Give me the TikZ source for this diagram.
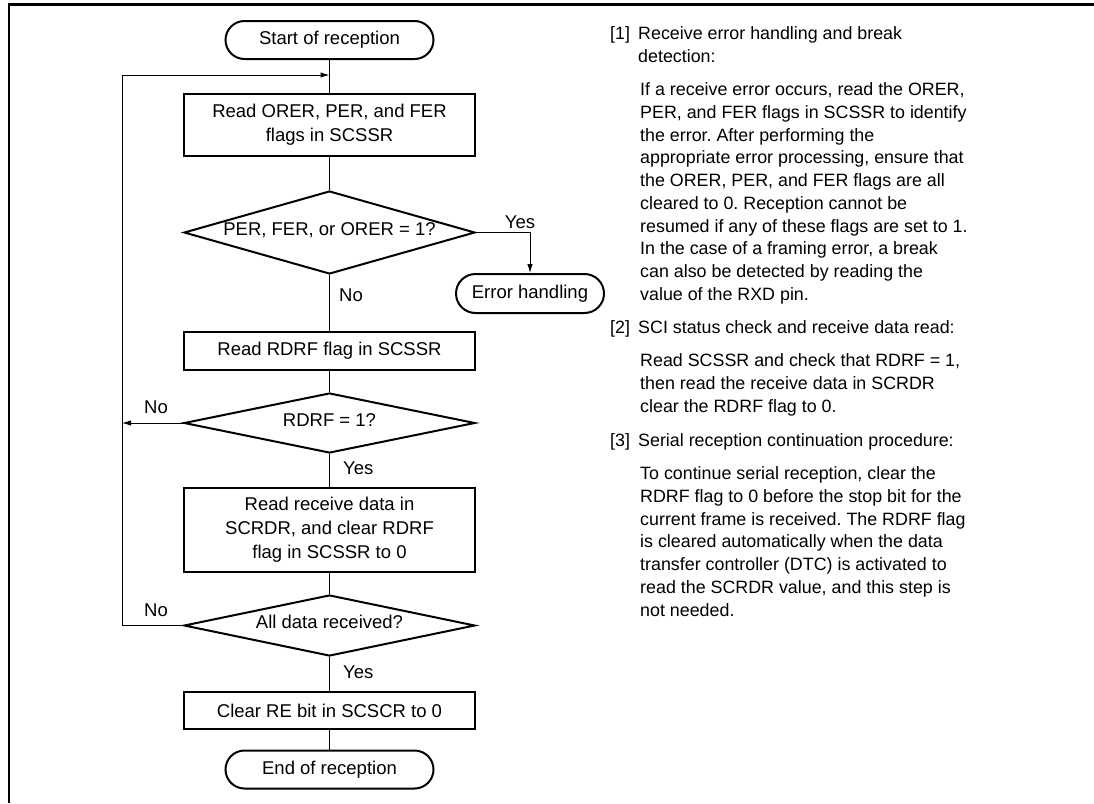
\documentclass[tikz,border=0pt]{standalone}
\usepackage{fontspec}
\setmainfont{Liberation Sans}
\usetikzlibrary{shapes.geometric,arrows.meta}
\frenchspacing
\newcommand\flowfont{\fontsize{18.5}{24}\selectfont}
\newcommand\notefont{\fontsize{17.85}{22.75}\selectfont}
\newcommand\zerobox[1]{\makebox[0pt]{#1}}
\begin{document}
\begin{tikzpicture}[x=1pt,y=-1pt,
 proc/.style={draw,line width=2pt,minimum width=291pt,inner sep=0pt,align=center,font=\flowfont},
 term/.style={draw,line width=2pt,rounded corners=19pt,minimum width=208pt,minimum height=38pt,inner sep=0pt,font=\flowfont},
 dec/.style={draw,diamond,line width=2pt,minimum width=291pt,inner sep=0pt,font=\flowfont,text height=6.6pt,text depth=-6.6pt},
 conn/.style={line width=1pt},
 arr/.style={line width=1pt,-{Latex[length=9pt,width=5.5pt]}},
 lbl/.style={font=\flowfont,inner sep=0pt},
 note/.style={font=\notefont,inner sep=0pt,align=left,anchor=north west}]
\useasboundingbox (0,0) rectangle (1094,803);
% frame
\draw[line width=2.5pt] (9,803) -- (9,4.3) -- (1094,4.3);
% flow nodes
\node[term] (start) at (329.5,40) {Start of reception};
\node[proc,minimum height=62pt] (b1) at (329.5,125) {Read ORER, PER, and FER\\flags in SCSSR};
\node[dec,minimum height=83pt] (d1) at (329.5,232.5) {\zerobox{PER, FER, or ORER = 1?}};
\node[term,minimum width=148pt,minimum height=39pt,rounded corners=19.5pt] (err) at (530,293.5) {Error handling};
\node[proc,minimum height=38pt] (b2) at (329.5,351) {Read RDRF flag in SCSSR};
\node[dec,minimum height=60pt] (d2) at (329.5,423) {\zerobox{RDRF = 1?}};
\node[proc,minimum height=84pt] (b3) at (329.5,530) {Read receive data in\\SCRDR, and clear RDRF\\flag in SCSSR to 0};
\node[dec,minimum height=61pt] (d3) at (329.5,625.5) {\zerobox{All data received?}};
\node[proc,minimum height=37pt] (b4) at (329.5,710.5) {Clear RE bit in SCSCR to 0};
\node[term] (end) at (329.5,769.5) {End of reception};
% connectors
\coordinate (lc) at (122,75);
\coordinate (join) at (329.5,75);
\draw[conn] (start) -- (b1);
\draw[conn] (b1) -- (d1);
\draw[conn] (d1) -- (b2);
\draw[conn] (b2) -- (d2);
\draw[conn] (d2) -- (b3);
\draw[conn] (b3) -- (d3);
\draw[conn] (d3) -- (b4);
\draw[conn] (b4) -- (end);
\draw[arr] (d1.east) -| (err.north);
\draw[arr] (d2.west) -- (d2.west -| lc);
\draw[arr] (d3.west) -| (lc) -- (join);
% labels
\node[lbl] (yes1) at (520,222) {Yes};
\node[lbl,anchor=west] (no1) at (339,295) {No};
\node[lbl] (no2) at (156,407) {No};
\node[lbl,anchor=west] (yes2) at (343,468) {Yes};
\node[lbl] (no3) at (156,610) {No};
\node[lbl,anchor=west] (yes3) at (343,672) {Yes};
% notes
\node[note] (n1) at (610,26.4) {[1]};
\node[note] (h1) at (638,26.4) {Receive error handling and break\\detection:};
\node[note] (t1) at (640,82.4) {If a receive error occurs, read the ORER,\\PER, and FER flags in SCSSR to identify\\the error. After performing the\\appropriate error processing, ensure that\\the ORER, PER, and FER flags are all\\cleared to 0. Reception cannot be\\resumed if any of these flags are set to 1.\\In the case of a framing error, a break\\can also be detected by reading the\\value of the RXD pin.};
\node[note] (n2) at (610,320.4) {[2]};
\node[note] (h2) at (638,320.4) {SCI status check and receive data read:};
\node[note] (t2) at (640,353.4) {Read SCSSR and check that RDRF = 1,\\then read the receive data in SCRDR\\clear the RDRF flag to 0.};
\node[note] (n3) at (610,433.4) {[3]};
\node[note] (h3) at (638,433.4) {Serial reception continuation procedure:};
\node[note] (t3) at (640,466.4) {To continue serial reception, clear the\\RDRF flag to 0 before the stop bit for the\\current frame is received. The RDRF flag\\is cleared automatically when the data\\transfer controller (DTC) is activated to\\read the SCRDR value, and this step is\\not needed.};
\end{tikzpicture}
\end{document}
